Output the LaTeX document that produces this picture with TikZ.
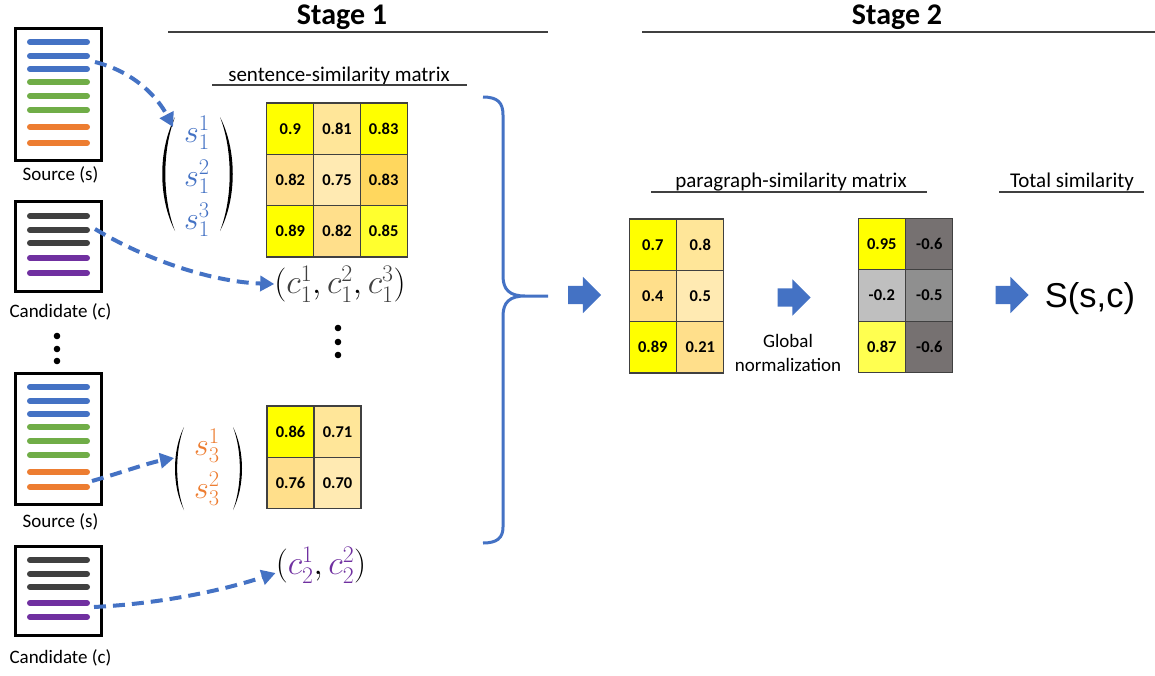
\RequirePackage{fix-cm}
\documentclass[tikz,border=0pt]{standalone}
\usepackage{amsmath}
\usepackage{fontspec}
\setmainfont{Carlito}
\newfontfamily\arialfont{Liberation Sans}
\usetikzlibrary{arrows.meta,shapes.arrows,positioning}
\definecolor{accblue}{HTML}{4472C4}
\definecolor{accgreen}{HTML}{70AD47}
\definecolor{accorange}{HTML}{ED7D31}
\definecolor{accdark}{HTML}{404040}
\definecolor{accpurple}{HTML}{7030A0}
\definecolor{cyel}{HTML}{FFFF00}
\definecolor{cyelb}{HTML}{FFFF2E}
\definecolor{cyelc}{HTML}{FFFF50}
\definecolor{cpale}{HTML}{FFE699}
\definecolor{cmid}{HTML}{FFDF8B}
\definecolor{clite}{HTML}{FFEAB2}
\definecolor{cdeep}{HTML}{FFD75E}
\definecolor{gdark}{HTML}{767171}
\definecolor{gmid}{HTML}{8F8F8F}
\definecolor{glite}{HTML}{BFBFBF}
\tikzset{
    stagetitle/.style={font=\bfseries\fontsize{30}{32}\selectfont,inner sep=0pt,anchor=base},
    head/.style={font=\fontsize{21}{24}\selectfont,inner sep=0pt,anchor=base},
    doclabel/.style={font=\fontsize{19}{22}\selectfont,inner sep=0pt,anchor=base},
    rule/.style={black!75,line width=1.5pt},
    doc/.style={draw=black,line width=3pt,minimum width=86pt,inner sep=0pt},
    textline/.style={line width=6pt,line cap=round},
    cell/.style={draw=black!75,line width=1.2pt,minimum width=47pt,minimum height=51.3pt,
        inner sep=0pt,font=\bfseries\fontsize{16.5}{19}\selectfont},
    entry/.style={inner sep=0pt,font=\fontsize{32}{36}\selectfont},
    tuple/.style={inner sep=0pt,font=\fontsize{34}{40}\selectfont},
    link/.style={accblue,-{Triangle[length=14pt,width=15pt]},line width=4pt,dash pattern=on 12pt off 7pt},
    fatarrow/.style={single arrow,fill=accblue,draw=none,minimum height=33pt,minimum width=36pt,
        inner xsep=4pt,inner ysep=9pt,single arrow head extend=9pt},
    bracket/.style={accblue,line width=3pt}
}
\begin{document}
\begin{tikzpicture}[x=1pt,y=-1pt]
\useasboundingbox (0,0) rectangle (1155,675);
% headers
\node[stagetitle] (stage1) at (342,24) {Stage 1};
\draw[rule] (168,32) -- (548,32);
\node[stagetitle] (stage2) at (897,24) {Stage 2};
\draw[rule] (642,32) -- (1155,32);
\node[head] (sentmat) at (339,81) {sentence-similarity matrix};
\draw[rule] (212,85) -- (467,85);
\node[head] (paramat) at (791,187) {paragraph-similarity matrix};
\draw[rule] (651,192) -- (927,192);
\node[head] (totsim) at (1072,187) {Total similarity};
\draw[rule] (999,192) -- (1144,192);

% documents
\node[doc,minimum height=132pt] (src1) at (58.5,94.5) {};
\foreach \y/\c in {42/accblue,56/accblue,69/accblue,82/accgreen,96/accgreen,110/accgreen,127/accorange,143/accorange}
    \draw[textline,draw=\c] (30,\y) -- (87,\y);
\node[doclabel] (src1lbl) at (60.5,180) {Source (s)};
\node[doc,minimum height=90pt] (cand1) at (58.5,246.5) {};
\foreach \y/\c in {216/accdark,230/accdark,243/accdark,258/accpurple,273/accpurple}
    \draw[textline,draw=\c] (30,\y) -- (87,\y);
\node[doclabel] (cand1lbl) at (60.5,317) {Candidate (c)};
\foreach \y in {336,349,361}
    \fill (57,\y) circle[radius=3.3pt];
\node[doc,minimum height=131pt] (src3) at (58.5,439) {};
\foreach \y/\c in {387/accblue,401/accblue,414/accblue,427/accgreen,441/accgreen,455/accgreen,472/accorange,487/accorange}
    \draw[textline,draw=\c] (30,\y) -- (87,\y);
\node[doclabel] (src3lbl) at (60.5,527) {Source (s)};
\node[doc,minimum height=89pt] (cand2) at (58.5,591) {};
\foreach \y/\c in {560/accdark,574/accdark,587/accdark,603/accpurple,617/accpurple}
    \draw[textline,draw=\c] (30,\y) -- (87,\y);
\node[doclabel] (cand2lbl) at (60.5,663) {Candidate (c)};

% sentence vectors
\node[entry,text=accblue] (s11) at (197,133) {$s_1^1$};
\node[entry,text=accblue] (s12) at (197,177) {$s_1^2$};
\node[entry,text=accblue] (s13) at (197,220) {$s_1^3$};
\node[entry,text=accorange] (s31) at (207,446) {$s_3^1$};
\node[entry,text=accorange] (s32) at (207,489) {$s_3^2$};
% parentheses: x, top, bottom, bulge
\foreach \x/\t/\b/\o in {175/117/231/17,220/117/231/-17,184/427/510/12,233/427/510/-12}
    \fill (\x,\t) .. controls ({\x-\o},{\t+0.29*(\b-\t)}) and ({\x-\o},{\b-0.29*(\b-\t)}) .. (\x,\b)
        .. controls ({\x-0.76*\o},{\b-0.29*(\b-\t)}) and ({\x-0.76*\o},{\t+0.29*(\b-\t)}) .. (\x,\t);
\node[tuple] (cvec1) at (340,284)
    {$(\textcolor{accdark}{c_1^1},\textcolor{accdark}{c_1^2},\textcolor{accdark}{c_1^3})$};
\node[tuple] (cvec2) at (321,565)
    {$(\textcolor{accpurple}{c_2^1},\textcolor{accpurple}{c_2^2})$};
\foreach \y in {328,342,355}
    \fill (338,\y) circle[radius=3.3pt];

% links
\coordinate (s1out) at (95,62);
\coordinate (c1out) at (95,229);
\coordinate (s3out) at (92,481);
\coordinate (c2out) at (94,607);
\draw[link] (s1out) .. controls (135,72) and (158,98) .. ([shift={(-11,-6)}]s11.west);
\draw[link] (c1out) .. controls (150,262) and (215,282) .. (cvec1.west);
\draw[link] (s3out) .. controls (120,473) and (148,463) .. ([shift={(-20,12)}]s31.west);
\draw[link] (c2out) .. controls (170,603) and (230,588) .. ([shift={(0,8)}]cvec2.west);

% sentence-similarity matrices
\foreach \j/\i/\v/\c in {1/1/0.9/cyel,2/1/0.81/cpale,3/1/0.83/cyel,
    1/2/0.82/cmid,2/2/0.75/clite,3/2/0.83/cdeep,
    1/3/0.89/cyel,2/3/0.82/cmid,3/3/0.85/cyelb}
    \node[cell,fill=\c] (sm-\i-\j) at ({290.3+46.7*(\j-1)},{128.7+51.3*(\i-1)}) {\v};
\foreach \j/\i/\v/\c in {1/1/0.86/cyel,2/1/0.71/cpale,1/2/0.76/cmid,2/2/0.70/clite}
    \node[cell,fill=\c] (tm-\i-\j) at ({290.5+47*(\j-1)},{431.7+51.5*(\i-1)}) {\v};

% brace
\draw[bracket] (483,97) .. controls (498,97) and (503,103) .. (503,115) -- (503,276)
    .. controls (503,290) and (510,296) .. (525,296) -- (548,296)
    -- (525,296) .. controls (510,296) and (503,302) .. (503,316) -- (503,527)
    .. controls (503,538) and (497,543) .. (483,543);
\node[fatarrow] (arr1) at (580,295) {};

% paragraph-similarity matrices
\foreach \j/\i/\v/\c in {1/1/0.7/cyel,2/1/0.8/cpale,1/2/0.4/cmid,2/2/0.5/clite,1/3/0.89/cyel,2/3/0.21/cmid}
    \node[cell,fill=\c] (pm-\i-\j) at ({652.8+47.5*(\j-1)},{244.7+51.3*(\i-1)}) {\v};
\node[fatarrow] (arr2) at (789.5,297.5) {};
\node[doclabel,align=center] (glob) at (788,371) {Global\\[2pt]normalization};
\foreach \j/\i/\v/\c in {1/1/0.95/cyel,2/1/-0.6/gdark,1/2/-0.2/glite,2/2/-0.5/gmid,1/3/0.87/cyelc,2/3/-0.6/gdark}
    \node[cell,fill=\c] (nm-\i-\j) at ({881.8+47.5*(\j-1)},{244.2+51.3*(\i-1)}) {\v};
\node[fatarrow] (arr3) at (1007.5,295) {};
\node[inner sep=0pt,anchor=base,font=\arialfont\fontsize{34.5}{40}\selectfont] (total) at (1090,307) {S(s,c)};
\end{tikzpicture}
\end{document}
